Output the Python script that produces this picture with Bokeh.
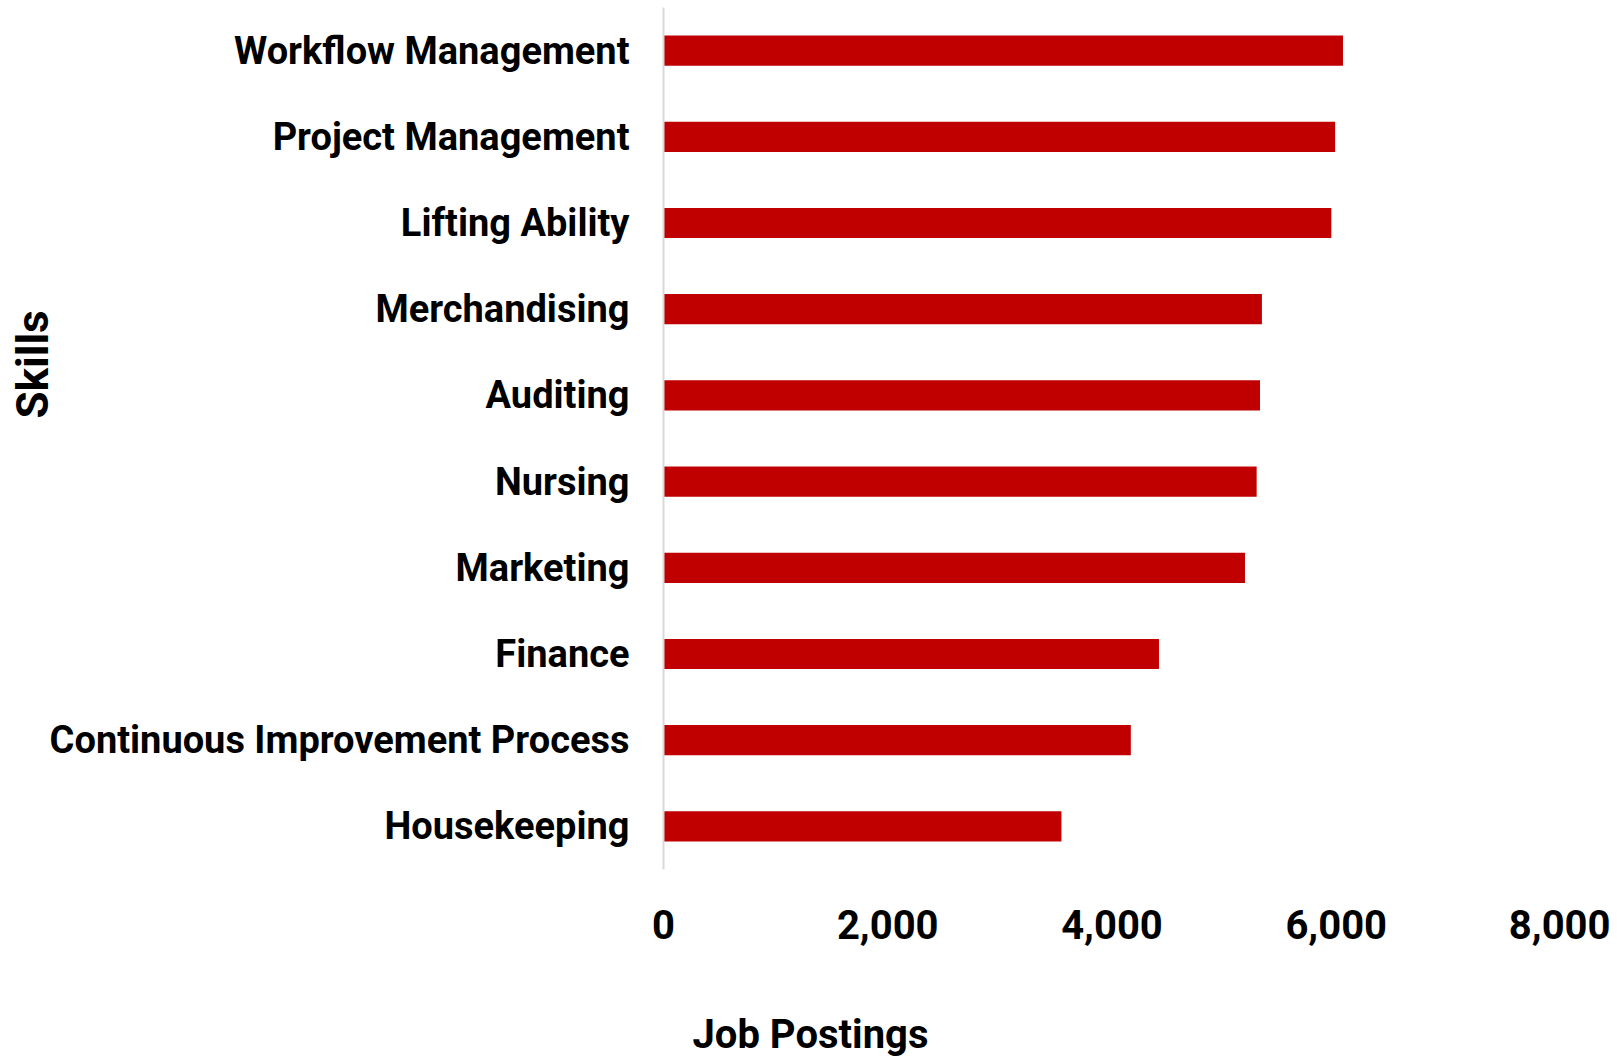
from bokeh.plotting import figure
from bokeh.models import Range1d, FactorRange, FixedTicker, NumeralTickFormatter, Title, ColumnDataSource
from bokeh.embed import file_html
from bokeh.resources import INLINE

skills = ["Workflow Management", "Project Management", "Lifting Ability", "Merchandising",
          "Auditing", "Nursing", "Marketing", "Finance", "Continuous Improvement Process",
          "Housekeeping"]
postings = [6060, 5990, 5956, 5337, 5320, 5290, 5186, 4419, 4168, 3549]
x_ticks = [0, 2000, 4000, 6000, 8000]

FONT = "Roboto"

src = ColumnDataSource(dict(skill=skills, postings=postings))

p = figure(y_range=FactorRange(factors=list(reversed(skills))),
           x_range=Range1d(0, 8000),
           frame_width=897, frame_height=862,
           min_border_left=663, min_border_right=50, min_border_top=7, min_border_bottom=187,
           output_backend="svg", toolbar_location=None)

p.hbar(y="skill", right="postings", left=0, height=0.35, source=src,
       fill_color="#C00000", line_color=None)

p.grid.visible = False
p.outline_line_color = None
p.background_fill_color = "white"
p.border_fill_color = "white"

xa = p.xaxis[0]
xa.ticker = FixedTicker(ticks=x_ticks)
xa.formatter = NumeralTickFormatter(format="0,0")
xa.axis_line_color = None
xa.major_tick_line_color = None
xa.minor_tick_line_color = None
xa.major_tick_out = 0
xa.major_label_standoff = 40
xa.major_label_text_font = FONT
xa.major_label_text_font_style = "bold"
xa.major_label_text_font_size = "40px"
xa.major_label_text_color = "black"

ya = p.yaxis[0]
ya.axis_line_color = "#d9d9d9"
ya.axis_line_width = 2
ya.major_tick_line_color = None
ya.minor_tick_line_color = None
ya.major_tick_out = 0
ya.major_label_standoff = 34
ya.major_label_text_font = FONT
ya.major_label_text_font_style = "bold"
ya.major_label_text_font_size = "38px"
ya.major_label_text_color = "black"

p.add_layout(Title(text="Job Postings", align="left", offset=29, standoff=134,
                   text_font=FONT, text_font_style="bold", text_font_size="40px",
                   text_color="black"), "below")
p.add_layout(Title(text="Skills", align="left", offset=451, standoff=-25,
                   text_font=FONT, text_font_style="bold", text_font_size="44px",
                   text_color="black"), "left")

open("out.html", "w").write(file_html(p, INLINE))
